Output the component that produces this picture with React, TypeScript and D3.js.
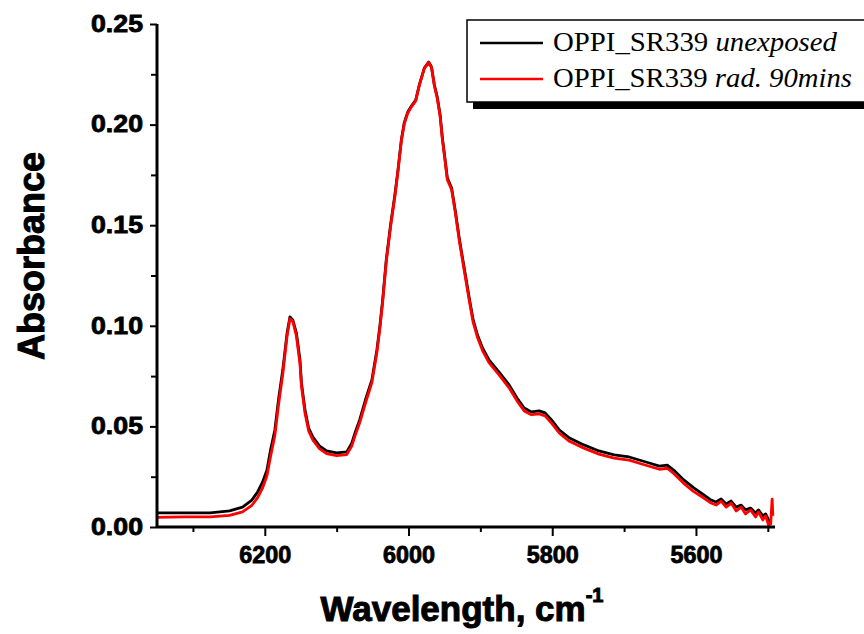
import React, { useEffect, useRef } from 'react';
import * as d3 from 'd3';

// unexposed sample (black)
const blackWn = [6350, 6311, 6276, 6249, 6231, 6218, 6210, 6203, 6197, 6192, 6186, 6181, 6175, 6169, 6165, 6161, 6156, 6151, 6149, 6144, 6139, 6133, 6124, 6114, 6100, 6086, 6079, 6074, 6068, 6060, 6051, 6044, 6040, 6036, 6031, 6025, 6019, 6015, 6010, 6006, 6001, 5996, 5990, 5985, 5978, 5972, 5968, 5964, 5960, 5956, 5953, 5949, 5946, 5940, 5935, 5929, 5922, 5915, 5910, 5904, 5897, 5888, 5874, 5860, 5849, 5839, 5829, 5818, 5810, 5801, 5790, 5776, 5756, 5735, 5714, 5693, 5679, 5665, 5651, 5640, 5631, 5617, 5603, 5589, 5579, 5572, 5565, 5558, 5551, 5544, 5537, 5531, 5524, 5517, 5513, 5507, 5503, 5499, 5496];
const blackAbs = [0.0070, 0.0070, 0.0070, 0.0080, 0.0099, 0.0134, 0.0174, 0.0224, 0.0283, 0.0383, 0.0482, 0.0631, 0.0780, 0.0964, 0.1044, 0.1029, 0.0964, 0.0830, 0.0716, 0.0581, 0.0492, 0.0447, 0.0403, 0.0378, 0.0368, 0.0373, 0.0417, 0.0472, 0.0532, 0.0631, 0.0731, 0.0880, 0.0994, 0.1128, 0.1327, 0.1501, 0.1650, 0.1764, 0.1923, 0.2008, 0.2063, 0.2092, 0.2122, 0.2197, 0.2281, 0.2311, 0.2286, 0.2197, 0.2137, 0.2048, 0.1938, 0.1824, 0.1735, 0.1685, 0.1575, 0.1426, 0.1277, 0.1128, 0.1029, 0.0954, 0.0890, 0.0830, 0.0770, 0.0706, 0.0641, 0.0591, 0.0572, 0.0577, 0.0567, 0.0532, 0.0482, 0.0442, 0.0408, 0.0378, 0.0358, 0.0348, 0.0333, 0.0318, 0.0303, 0.0308, 0.0283, 0.0234, 0.0194, 0.0159, 0.0134, 0.0124, 0.0139, 0.0114, 0.0129, 0.0099, 0.0109, 0.0085, 0.0094, 0.0070, 0.0085, 0.0055, 0.0065, 0.0035, 0.0025];

// irradiated 90 mins (red)
const redWn = [6350, 6311, 6276, 6249, 6231, 6218, 6210, 6203, 6197, 6192, 6186, 6181, 6175, 6169, 6165, 6161, 6156, 6151, 6149, 6144, 6139, 6133, 6124, 6114, 6100, 6086, 6079, 6074, 6068, 6060, 6051, 6044, 6040, 6036, 6031, 6025, 6019, 6015, 6010, 6006, 6001, 5996, 5990, 5985, 5978, 5972, 5968, 5964, 5960, 5956, 5953, 5949, 5946, 5940, 5935, 5929, 5922, 5915, 5910, 5904, 5897, 5888, 5874, 5860, 5849, 5839, 5829, 5818, 5810, 5801, 5790, 5776, 5756, 5735, 5714, 5693, 5679, 5665, 5651, 5640, 5631, 5617, 5603, 5589, 5579, 5572, 5565, 5558, 5551, 5544, 5537, 5531, 5524, 5517, 5513, 5507, 5503, 5499, 5496, 5494, 5493];
const redAbs = [0.0048, 0.0050, 0.0050, 0.0058, 0.0075, 0.0108, 0.0146, 0.0195, 0.0255, 0.0350, 0.0455, 0.0605, 0.0760, 0.0950, 0.1035, 0.1022, 0.0950, 0.0810, 0.0700, 0.0565, 0.0478, 0.0432, 0.0390, 0.0365, 0.0355, 0.0360, 0.0402, 0.0458, 0.0518, 0.0615, 0.0718, 0.0868, 0.0982, 0.1118, 0.1318, 0.1492, 0.1642, 0.1758, 0.1918, 0.2002, 0.2058, 0.2088, 0.2118, 0.2195, 0.2279, 0.2309, 0.2284, 0.2192, 0.2130, 0.2040, 0.1930, 0.1815, 0.1726, 0.1676, 0.1565, 0.1415, 0.1265, 0.1116, 0.1017, 0.0942, 0.0877, 0.0817, 0.0756, 0.0692, 0.0627, 0.0577, 0.0558, 0.0562, 0.0552, 0.0516, 0.0466, 0.0426, 0.0392, 0.0362, 0.0342, 0.0332, 0.0317, 0.0302, 0.0287, 0.0292, 0.0266, 0.0217, 0.0176, 0.0144, 0.0119, 0.0109, 0.0129, 0.0099, 0.0119, 0.0080, 0.0099, 0.0065, 0.0085, 0.0050, 0.0075, 0.0035, 0.0055, 0.0010, 0.0015, 0.0139, 0.0055];

const xMajor = [6200, 6000, 5800, 5600];
const xMinor = [6300, 6100, 5900, 5700, 5500];
const yMajor = [0, 0.05, 0.1, 0.15, 0.2, 0.25];
const yMinor = [0.025, 0.075, 0.125, 0.175, 0.225];

const legendNames = ['OPPI_SR339 ', 'OPPI_SR339 '];
const legendNotes = ['unexposed', 'rad. 90mins'];
const seriesColors = ['#000000', '#ff0000'];

export default function App() {
    const ref = useRef<SVGSVGElement>(null);

    useEffect(() => {
        const W = 864, H = 634;
        const left = 157, right = 775, top = 24, bottom = 527;
        const svg = d3.select(ref.current);
        svg.selectAll('*').remove();

        const x = d3.scaleLinear().domain([6350, 5490]).range([left, right]);
        const y = d3.scaleLinear().domain([0, 0.25]).range([bottom, top]);

        const sans = '"Liberation Sans", Arial, sans-serif';

        // data lines, black first then red on top
        const line = d3.line<[number, number]>()
            .x(d => x(d[0]))
            .y(d => y(d[1]));
        const blackData = blackWn.map((w, i) => [w, blackAbs[i]] as [number, number]);
        const redData = redWn.map((w, i) => [w, redAbs[i]] as [number, number]);
        [blackData, redData].forEach((d, i) => {
            svg.append('path')
                .datum(d)
                .attr('d', line)
                .attr('fill', 'none')
                .attr('stroke', seriesColors[i])
                .attr('stroke-width', 2.8)
                .attr('stroke-linejoin', 'round');
        });

        // axes
        const yAxis = svg.append('g').attr('transform', 'translate(' + left + ',0)');
        yAxis.call(d3.axisLeft(y).tickValues(yMajor).tickSize(7).tickFormat(d3.format('.2f')));
        const yAxisMinor = svg.append('g').attr('transform', 'translate(' + left + ',0)');
        yAxisMinor.call(d3.axisLeft(y).tickValues(yMinor).tickSize(6).tickFormat(() => ''));

        const xAxis = svg.append('g').attr('transform', 'translate(0,' + bottom + ')');
        xAxis.call(d3.axisBottom(x).tickValues(xMajor).tickSize(9).tickFormat(d3.format('d')));
        const xAxisMinor = svg.append('g').attr('transform', 'translate(0,' + bottom + ')');
        xAxisMinor.call(d3.axisBottom(x).tickValues(xMinor).tickSize(5).tickFormat(() => ''));

        [yAxis, yAxisMinor, xAxis, xAxisMinor].forEach(g => {
            g.select('.domain').attr('stroke', '#000').attr('stroke-width', 3);
            g.selectAll('.tick line').attr('stroke', '#000').attr('stroke-width', 2);
            g.selectAll('.tick text')
                .attr('fill', '#000')
                .attr('font-family', sans)
                .attr('font-weight', 'bold')
                .attr('font-size', 23)
                .attr('stroke', '#000')
                .attr('stroke-width', 0.8)
                .attr('textLength', 52)
                .attr('lengthAdjust', 'spacingAndGlyphs');
        });
        yAxis.select('.domain').attr('d', 'M0,' + bottom + 'V' + top);
        yAxisMinor.select('.domain').remove();
        xAxis.select('.domain').attr('d', 'M' + left + ',0H' + right);
        xAxisMinor.select('.domain').remove();
        yAxis.selectAll('.tick text').attr('x', -14);
        xAxis.selectAll('.tick text').attr('y', 20);

        // axis titles
        svg.append('text')
            .attr('transform', 'translate(44,256) rotate(-90)')
            .attr('text-anchor', 'middle')
            .attr('font-family', sans)
            .attr('font-weight', 'bold')
            .attr('font-size', 36)
            .attr('stroke', '#000')
            .attr('stroke-width', 1)
            .text('Absorbance');

        const xt = svg.append('text')
            .attr('x', 462)
            .attr('y', 621)
            .attr('text-anchor', 'middle')
            .attr('font-family', sans)
            .attr('font-weight', 'bold')
            .attr('font-size', 35)
            .attr('stroke', '#000')
            .attr('stroke-width', 1);
        xt.append('tspan').text('Wavelength, cm');
        xt.append('tspan').attr('dy', -19).attr('font-size', 20).text('-1');

        // legend
        const lx = 467, ly = 20, lh = 82;
        svg.append('rect')
            .attr('x', lx + 6).attr('y', ly + 6)
            .attr('width', W - lx).attr('height', lh + 1)
            .attr('fill', '#000');
        svg.append('rect')
            .attr('x', lx).attr('y', ly)
            .attr('width', W - lx + 10).attr('height', lh)
            .attr('fill', '#fff')
            .attr('stroke', '#000')
            .attr('stroke-width', 1.5);
        legendNames.forEach((name, i) => {
            const yy = ly + 23 + i * 36;
            svg.append('line')
                .attr('x1', lx + 13).attr('x2', lx + 76)
                .attr('y1', yy).attr('y2', yy)
                .attr('stroke', seriesColors[i])
                .attr('stroke-width', 2.5);
            const t = svg.append('text')
                .attr('x', lx + 86)
                .attr('y', yy + 8)
                .attr('font-family', '"Liberation Serif", "Times New Roman", serif')
                .attr('font-size', 27)
                .attr('textLength', i === 0 ? 284 : 299)
                .attr('lengthAdjust', 'spacingAndGlyphs');
            t.append('tspan').text(name);
            t.append('tspan').attr('font-style', 'italic').text(legendNotes[i]);
        });

        svg.attr('width', W).attr('height', H);
    }, []);

    return (
        <svg ref={ref} width={864} height={634}
            style={{ position: 'absolute', left: 0, top: 0, background: '#fff' }} />
    );
}
